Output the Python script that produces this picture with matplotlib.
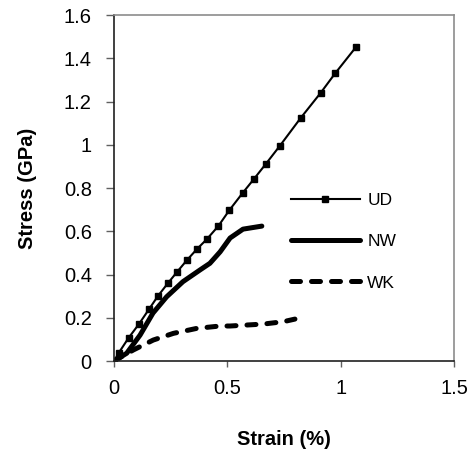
import matplotlib.pyplot as plt

plt.rcParams['font.family'] = ['Liberation Sans', 'DejaVu Sans']

# stress-strain curves
ud_strain = [0, 0.021, 0.065, 0.110, 0.154, 0.194, 0.237, 0.278, 0.322, 0.366, 0.409,
             0.460, 0.509, 0.568, 0.618, 0.670, 0.732, 0.824, 0.912, 0.975, 1.068]
ud_stress = [0, 0.038, 0.108, 0.171, 0.239, 0.301, 0.359, 0.412, 0.467, 0.518, 0.563,
             0.624, 0.698, 0.778, 0.843, 0.912, 0.996, 1.125, 1.241, 1.330, 1.453]

nw_strain = [0, 0.056, 0.115, 0.172, 0.232, 0.304, 0.379, 0.423, 0.468, 0.512, 0.569, 0.652]
nw_stress = [0, 0.036, 0.120, 0.222, 0.297, 0.367, 0.421, 0.452, 0.505, 0.569, 0.610, 0.624]

wk_strain = [0, 0.085, 0.173, 0.262, 0.365, 0.468, 0.512, 0.659, 0.747, 0.798]
wk_stress = [0, 0.051, 0.097, 0.128, 0.151, 0.162, 0.162, 0.171, 0.182, 0.194]

fig = plt.figure(figsize=(4.77, 4.57), dpi=100)
ax = fig.add_axes([0.239, 0.210, 0.713, 0.757])

ax.plot(ud_strain, ud_stress, 'k-', lw=1.5, marker='s', ms=4, label='UD')
ax.plot(nw_strain, nw_stress, 'k-', lw=3.6, solid_capstyle='round', label='NW')
ax.plot(wk_strain, wk_stress, 'k', lw=3.6, ls=(0, (1.8, 2.2)), dash_capstyle='round', label='WK')

ax.set_xlim(0, 1.5)
ax.set_ylim(0, 1.6)
ax.set_xticks([0, 0.5, 1, 1.5])
ax.set_xticklabels(['0', '0.5', '1', '1.5'])
ax.set_yticks([0, 0.2, 0.4, 0.6, 0.8, 1.0, 1.2, 1.4, 1.6])
ax.set_yticklabels(['0', '0.2', '0.4', '0.6', '0.8', '1', '1.2', '1.4', '1.6'])
ax.tick_params(direction='out', labelsize=14.5, width=1, color='#606060')
ax.tick_params(axis='y', length=6, pad=10)
ax.tick_params(axis='x', length=4, pad=9)

for s in ['left', 'bottom']:
    ax.spines[s].set_color('#202020')
    ax.spines[s].set_linewidth(1.2)
for s in ['top', 'right']:
    ax.spines[s].set_color('#8c8c8c')
    ax.spines[s].set_linewidth(1.2)

ax.set_xlabel('Strain (%)', fontsize=14.5, fontweight='bold')
ax.set_ylabel('Stress (GPa)', fontsize=14.5, fontweight='bold')
ax.xaxis.set_label_coords(0.5, -0.2)
ax.yaxis.set_label_coords(-0.225, 0.5)

ax.legend(loc='upper left', bbox_to_anchor=(291 / 477, (457 - 193) / 457),
          bbox_transform=fig.transFigure,
          frameon=False, fontsize=12.5, borderpad=0, borderaxespad=0,
          handlelength=3.95, handletextpad=0.45, labelspacing=1.5)

plt.savefig('out.png', dpi=100)
